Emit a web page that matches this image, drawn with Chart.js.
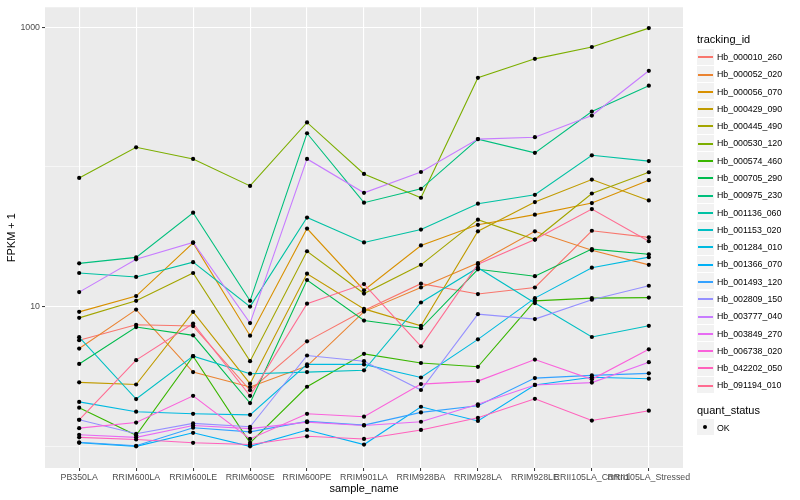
<!DOCTYPE html>
<html>
<head>
<meta charset="utf-8">
<script src="https://cdn.jsdelivr.net/npm/chart.js@4.4.1/dist/chart.umd.min.js"></script>
<style>
html, body { margin: 0; padding: 0; background: #fff; }
#wrap { position: relative; width: 800px; height: 500px; font-family: "Liberation Sans", Arial, sans-serif; }
#chart { position: absolute; left: 0; top: 0; }
.lg { position: absolute; white-space: nowrap; }
</style>
</head>
<body>
<div id="wrap">
  <canvas id="chart" width="800" height="500"></canvas>
  <div id="legend"></div>
</div>
<script>
// samples on the x axis
const samples = ['PB350LA', 'RRIM600LA', 'RRIM600LE', 'RRIM600SE', 'RRIM600PE', 'RRIM901LA',
                 'RRIM928BA', 'RRIM928LA', 'RRIM928LE', 'RRII105LA_Control', 'RRII105LA_Stressed'];

// FPKM + 1 per gene, one value per sample
const hb_000010_260 = [5.75, 7.41, 7.26, 2.52, 5.64, 9.37, 14.6, 12.3, 13.7, 34.9, 31.3];
const hb_000052_020 = [5.01, 9.52, 3.40, 2.66, 3.75, 9.21, 13.7, 20.5, 34.6, 25.3, 19.9];
const hb_000056_070 = [9.17, 11.9, 28.6, 6.19, 36.2, 13.1, 27.4, 38.5, 45.5, 55.1, 80.3];
const hb_000429_090 = [2.87, 2.77, 9.17, 2.81, 17.2, 9.63, 7.29, 34.6, 56.0, 81.1, 57.5];
const hb_000445_490 = [8.31, 11.0, 17.4, 4.07, 24.9, 12.4, 19.9, 41.9, 30.2, 64.5, 91.5];
const hb_000530_120 = [83.3, 138, 114, 73.1, 208, 89.0, 60.1, 434, 593, 721, 984];
const hb_000574_460 = [1.89, 1.20, 4.42, 1.06, 2.67, 4.59, 3.95, 3.71, 11.0, 11.5, 11.6];
const hb_000705_290 = [3.89, 7.14, 6.23, 2.04, 15.5, 7.95, 7.00, 18.5, 16.5, 25.8, 23.7];
const hb_000975_230 = [20.4, 22.5, 47.0, 11.0, 174, 55.4, 69.6, 158, 126, 249, 381];
const hb_001136_060 = [17.4, 16.3, 20.8, 10.0, 43.4, 28.8, 35.6, 54.5, 63.1, 121, 110];
const hb_001153_020 = [6.04, 2.18, 4.42, 3.31, 3.40, 3.50, 10.7, 19.0, 10.6, 6.06, 7.29];
const hb_001284_010 = [2.08, 1.77, 1.71, 1.68, 3.86, 3.86, 3.11, 5.83, 11.5, 19.0, 22.6];
const hb_001366_070 = [1.06, 1.00, 1.25, 1.00, 1.31, 1.03, 1.92, 1.52, 2.75, 3.12, 3.05];
const hb_001493_120 = [1.07, 1.01, 1.36, 1.27, 1.51, 1.42, 1.75, 1.95, 3.08, 3.22, 3.33];
const hb_002809_150 = [1.55, 1.23, 1.46, 1.38, 4.47, 4.07, 2.53, 8.83, 8.14, 11.2, 14.1];
const hb_003777_040 = [12.7, 21.8, 28.8, 7.62, 114, 65.2, 91.9, 158, 163, 233, 487];
const hb_003849_270 = [1.21, 1.16, 1.41, 1.34, 1.49, 1.41, 1.50, 2.00, 2.75, 2.86, 4.00];
const hb_006738_020 = [1.35, 1.48, 2.30, 1.13, 1.71, 1.63, 2.79, 2.93, 4.18, 3.02, 4.95];
const hb_042202_050 = [1.16, 1.12, 1.06, 1.03, 1.18, 1.13, 1.31, 1.60, 2.19, 1.53, 1.80];
const hb_091194_010 = [1.55, 4.14, 7.57, 2.30, 10.5, 14.5, 5.20, 20.1, 30.2, 49.9, 29.4];

const trackingIds = ['Hb_000010_260', 'Hb_000052_020', 'Hb_000056_070', 'Hb_000429_090', 'Hb_000445_490',
                     'Hb_000530_120', 'Hb_000574_460', 'Hb_000705_290', 'Hb_000975_230', 'Hb_001136_060',
                     'Hb_001153_020', 'Hb_001284_010', 'Hb_001366_070', 'Hb_001493_120', 'Hb_002809_150',
                     'Hb_003777_040', 'Hb_003849_270', 'Hb_006738_020', 'Hb_042202_050', 'Hb_091194_010'];
const series = [hb_000010_260, hb_000052_020, hb_000056_070, hb_000429_090, hb_000445_490,
                hb_000530_120, hb_000574_460, hb_000705_290, hb_000975_230, hb_001136_060,
                hb_001153_020, hb_001284_010, hb_001366_070, hb_001493_120, hb_002809_150,
                hb_003777_040, hb_003849_270, hb_006738_020, hb_042202_050, hb_091194_010];

const yTicks = [1, 10, 100, 1000];
const yLabelled = [10, 1000];

// ggplot hue palette, 20 levels
const palette = ['#F8766D', '#EA8331', '#D89000', '#C09B00', '#A3A500', '#7CAE00', '#39B600', '#00BB4E',
                 '#00BF7D', '#00C1A3', '#00BFC4', '#00BAE0', '#00B0F6', '#35A2FF', '#9590FF', '#C77CFF',
                 '#E76BF3', '#FA62DB', '#FF62BC', '#FF6C91'];

const FONT = '"Liberation Sans", Arial, sans-serif';
Chart.defaults.font.family = FONT;

const panelBg = {
    id: 'panelBg',
    beforeDraw(chart) {
        const {ctx, chartArea: a} = chart;
        ctx.save();
        ctx.fillStyle = '#EBEBEB';
        ctx.fillRect(a.left, a.top, a.right - a.left, a.bottom - a.top);
        ctx.restore();
    }
};

let datasets = series.map((vals, i) => ({
    label: trackingIds[i],
    data: vals.map((v, j) => ({x: j, y: v})),
    borderColor: palette[i],
    borderWidth: 1.1,
    pointRadius: 0,
    fill: false,
    tension: 0,
    order: series.length - i + 1
}));

let allPoints = [];
series.forEach(vals => vals.forEach((v, j) => allPoints.push({x: j, y: v})));
datasets.push({
    type: 'scatter',
    label: 'OK',
    data: allPoints,
    pointRadius: 2.1,
    pointBackgroundColor: '#000',
    pointBorderWidth: 0,
    showLine: false,
    order: 0
});

let chart = new Chart(document.getElementById('chart'), {
    type: 'line',
    data: {datasets: datasets},
    options: {
        responsive: false,
        devicePixelRatio: 1,
        animation: false,
        layout: {padding: {left: 0, right: 117, top: 5, bottom: 0}},
        scales: {
            x: {
                type: 'linear',
                min: -0.6,
                max: 10.6,
                afterBuildTicks: s => { s.ticks = samples.map((_, i) => ({value: i})); },
                afterFit: s => { s.height = 32; },
                ticks: {
                    autoSkip: false,
                    maxRotation: 0,
                    minRotation: 0,
                    padding: 1.5,
                    color: '#4D4D4D',
                    font: {size: 8.8},
                    callback: v => samples[v]
                },
                grid: {color: '#FFFFFF', lineWidth: 1.1, tickColor: '#333333', tickLength: 3, tickWidth: 1},
                border: {display: false},
                title: {display: true, text: 'sample_name', color: '#000', font: {size: 11}, padding: {top: 0, bottom: 4.4}}
            },
            y: {
                type: 'logarithmic',
                min: 0.716,
                max: 1387,
                afterBuildTicks: s => { s.ticks = yTicks.map(v => ({value: v})); },
                afterFit: s => { s.width = 45; },
                ticks: {
                    color: '#4D4D4D',
                    font: {size: 8.8},
                    padding: 2,
                    callback: v => yLabelled.includes(v) ? String(v) : ''
                },
                grid: {
                    color: '#FFFFFF',
                    lineWidth: c => yLabelled.includes(c.tick.value) ? 1.1 : 0.55,
                    tickColor: c => yLabelled.includes(c.tick.value) ? '#333333' : 'rgba(0,0,0,0)',
                    tickLength: 3,
                    tickWidth: 1
                },
                border: {display: false},
                title: {display: true, text: 'FPKM + 1', color: '#000', font: {size: 11}, padding: {top: 5.4, bottom: 0}}
            }
        },
        plugins: {
            legend: {display: false},
            tooltip: {enabled: false}
        }
    },
    plugins: [panelBg]
});

// legend, ggplot style
const legend = document.getElementById('legend');
function addBox(left, top, w, h, bg) {
    let d = document.createElement('div');
    d.className = 'lg';
    d.style.left = left + 'px'; d.style.top = top + 'px';
    d.style.width = w + 'px'; d.style.height = h + 'px';
    d.style.background = bg;
    legend.appendChild(d);
    return d;
}
function addText(txt, left, yc, size, color) {
    let d = document.createElement('div');
    d.className = 'lg';
    d.textContent = txt;
    d.style.left = left + 'px';
    d.style.top = (yc - size * 0.6) + 'px';
    d.style.fontSize = size + 'px';
    d.style.lineHeight = (size * 1.2) + 'px';
    d.style.color = color;
    legend.appendChild(d);
}

const KEY = 17.28;
addText('tracking_id', 697, 39.5, 11, '#000');
trackingIds.forEach((id, i) => {
    let top = 48.7 + i * KEY;
    addBox(697, Math.round(top), 17, 16, '#F2F2F2');
    addBox(698, Math.round(top + KEY / 2 - 1), 15, 2, palette[i]);
    addText(id, 717, top + KEY / 2, 8.8, '#000');
});
addText('quant_status', 697, 411, 11, '#000');
addBox(697, 419, 17, 16, '#F2F2F2');
let dot = addBox(703, 425, 4, 4, '#000');
dot.style.borderRadius = '50%';
addText('OK', 717, 427.8, 8.8, '#000');
</script>
</body>
</html>
